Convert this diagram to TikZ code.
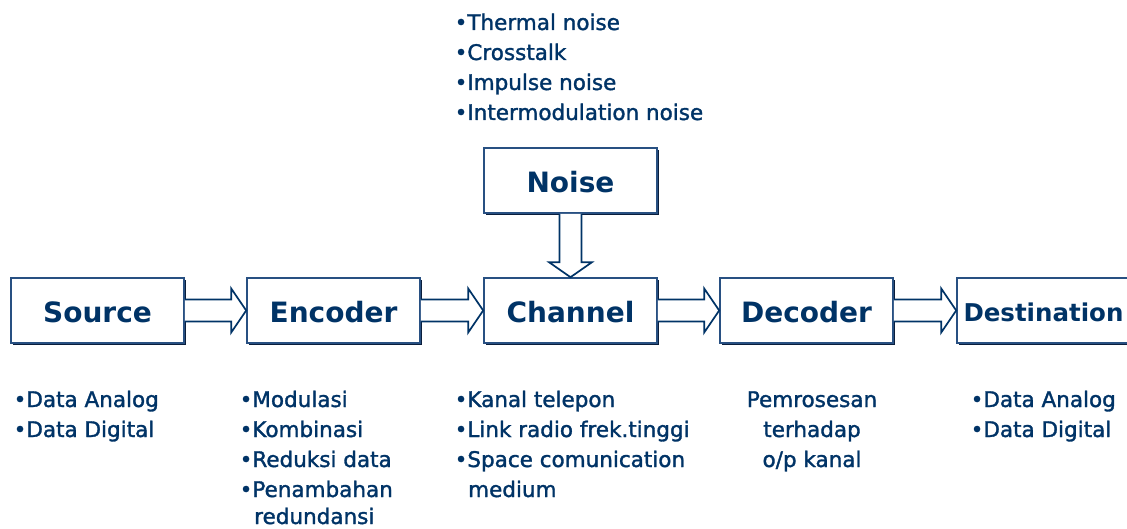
\documentclass[tikz,border=0pt]{standalone}
\usepackage{fontspec}
\setmainfont{DejaVu Sans}
\newfontfamily\itemfont{DejaVu Sans}[FakeBold=1.5]
\usetikzlibrary{shadows,calc}
\definecolor{navy}{RGB}{0,51,102}
\definecolor{boxline}{RGB}{40,80,130}
\definecolor{shadowc}{RGB}{10,30,60}
\tikzset{
  box/.style={draw=boxline, line width=1.6pt, fill=white, minimum width=173pt, minimum height=65pt,
    inner sep=0pt, text=navy, font=\fontsize{28}{30}\selectfont\bfseries, text height=24pt, text depth=0pt,
    drop shadow={shadow xshift=2pt, shadow yshift=-2pt, opacity=1, fill=shadowc}},
  barrow/.style={draw=navy, line width=1.7pt, fill=white, line join=miter},
  item/.style={anchor=base west, inner sep=0pt, text=navy, font=\fontsize{21.5}{30}\itemfont},
  citem/.style={item, anchor=base},
}
\newcommand\hblockarrow[2]{%
  \draw[barrow] ($(#1.east)+(0,-11)$) -- ($(#2.west)+(-15,-11)$) -- ($(#2.west)+(-15,-22)$) -- (#2.west)
    -- ($(#2.west)+(-15,22)$) -- ($(#2.west)+(-15,11)$) -- ($(#1.east)+(0,11)$);}
\begin{document}
\begin{tikzpicture}[x=1pt,y=-1pt]
\useasboundingbox (0,0) rectangle (1127,529);
% boxes
\node[box] (source) at (97.5,310.5) {Source};
\node[box] (encoder) at (333.5,310.5) {Encoder};
\node[box] (channel) at (570.5,310.5) {Channel};
\node[box] (decoder) at (806.5,310.5) {Decoder};
\node[box, font=\fontsize{24.5}{30}\selectfont\bfseries, text height=22pt] (destination) at (1043.5,310.5) {Destination};
\node[box] (noise) at (570.5,180.5) {Noise};
% block arrows
\hblockarrow{source}{encoder}
\hblockarrow{encoder}{channel}
\hblockarrow{channel}{decoder}
\hblockarrow{decoder}{destination}
\draw[barrow] ($(noise.south)+(-11,0)$) -- ($(channel.north)+(-11,-15)$) -- ($(channel.north)+(-21.5,-15)$)
  -- (channel.north) -- ($(channel.north)+(21.5,-15)$) -- ($(channel.north)+(11,-15)$) -- ($(noise.south)+(11,0)$);
% noise list
\node[item] (n1) at (454.5,30) {•Thermal noise};
\node[item] (n2) at (454.5,60) {•Crosstalk};
\node[item] (n3) at (454.5,90) {•Impulse noise};
\node[item] (n4) at (454.5,120) {•Intermodulation noise};
% source list
\node[item] (s1) at (13.5,407) {•Data Analog};
\node[item] (s2) at (13.5,437) {•Data Digital};
% encoder list
\node[item] (e1) at (239.5,407) {•Modulasi};
\node[item] (e2) at (239.5,437) {•Kombinasi};
\node[item] (e3) at (239.5,467) {•Reduksi data};
\node[item] (e4) at (239.5,497) {•Penambahan};
\node[item] (e5) at (254,524) {redundansi};
% channel list
\node[item] (c1) at (454.5,407) {•Kanal telepon};
\node[item] (c2) at (454.5,437) {•Link radio frek.tinggi};
\node[item] (c3) at (454.5,467) {•Space comunication};
\node[item] (c4) at (468,497) {medium};
% decoder text
\node[citem] (d1) at (812,407) {Pemrosesan};
\node[citem] (d2) at (812,437) {terhadap};
\node[citem] (d3) at (812,467) {o/p kanal};
% destination list
\node[item] (t1) at (970.5,407) {•Data Analog};
\node[item] (t2) at (970.5,437) {•Data Digital};
\end{tikzpicture}
\end{document}
